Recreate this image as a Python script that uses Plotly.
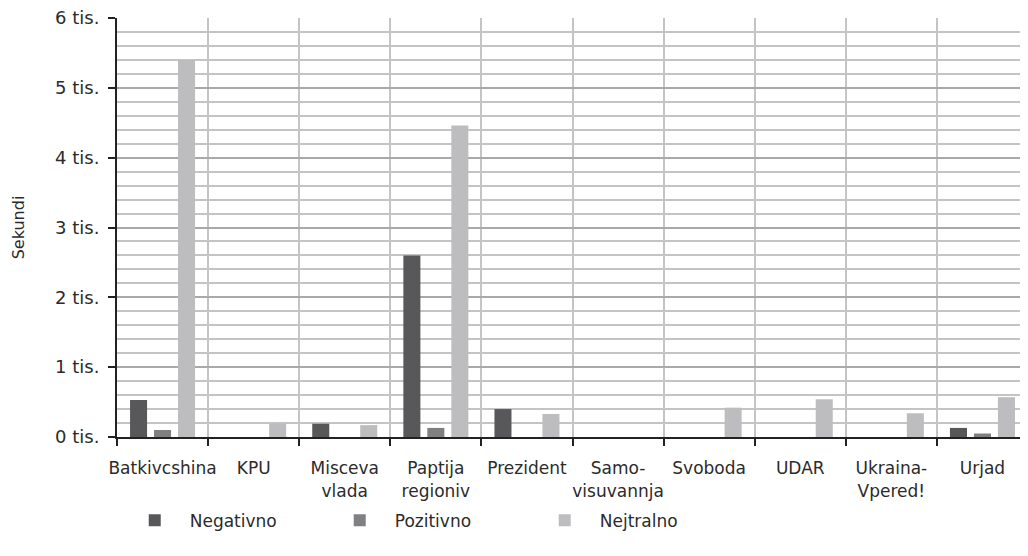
import plotly.graph_objects as go

# categories and series (seconds)
categories = ["Batkivcshina", "KPU", "Misceva<br>vlada", "Paptija<br>regioniv", "Prezident",
              "Samo-<br>visuvannja", "Svoboda", "UDAR", "Ukraina-<br>Vpered!", "Urjad"]
negativno = [530, 0, 190, 2600, 400, 0, 0, 0, 0, 130]
pozitivno = [100, 0, 0, 130, 0, 0, 0, 0, 0, 50]
nejtralno = [5400, 190, 170, 4460, 330, 0, 420, 540, 340, 570]

y_ticks = [0, 1000, 2000, 3000, 4000, 5000, 6000]
y_ticktext = ["0 tis.", "1 tis.", "2 tis.", "3 tis.", "4 tis.", "5 tis.", "6 tis."]

COLORS = {'neg': '#58585a', 'poz': '#808083', 'nej': '#bdbdbf', 'text': '#2b2b2b'}
FONT = 'DejaVu Sans'

fig = go.Figure()
for name, vals, col in [("Negativno", negativno, COLORS['neg']),
                        ("Pozitivno", pozitivno, COLORS['poz']),
                        ("Nejtralno", nejtralno, COLORS['nej'])]:
    fig.add_trace(go.Bar(x=categories, y=vals, name=name, marker=dict(color=col, line=dict(width=0))))

# page body adds an 8px margin, so the figure is a bit smaller than the window
fig.update_layout(
    width=1020, height=548,
    barmode='group', bargap=0.21, bargroupgap=0.29,
    plot_bgcolor='white', paper_bgcolor='white',
    font=dict(family=FONT, size=17, color=COLORS['text']),
    margin=dict(l=109, r=0, t=10, b=119),
    showlegend=True,
    legend=dict(
        orientation='h', x=0.003, xanchor='left', y=-0.2, yanchor='middle',
        entrywidth=130, entrywidthmode='pixels', itemwidth=60,
        font=dict(size=17, color=COLORS['text']),
        bgcolor='rgba(0,0,0,0)'
    ),
    xaxis=dict(
        type='category', tickson='boundaries', ticks='outside', ticklen=7, tickwidth=2,
        tickcolor='#222', showline=True, linecolor='#222', linewidth=2,
        showgrid=True, gridcolor='#c4c4c4', gridwidth=1.5, tickangle=0,
        ticklabelstandoff=15,
        tickfont=dict(size=17, color=COLORS['text'])
    ),
    yaxis=dict(
        range=[0, 6000], tickvals=y_ticks, ticktext=y_ticktext,
        ticks='outside', ticklen=7, tickwidth=2, tickcolor='#222',
        showline=True, linecolor='#222', linewidth=2, ticklabeloverflow='allow',
        ticklabelstandoff=5,
        showgrid=True, gridcolor='#a9a9a9', gridwidth=2, zeroline=False,
        minor=dict(dtick=200, showgrid=True, gridcolor='#c4c4c4', gridwidth=1.5, ticks=''),
        title=dict(text='Sekundi', font=dict(size=16, color=COLORS['text']), standoff=26),
        tickfont=dict(size=18, color=COLORS['text'])
    ),
)

fig.write_html("out.html")
